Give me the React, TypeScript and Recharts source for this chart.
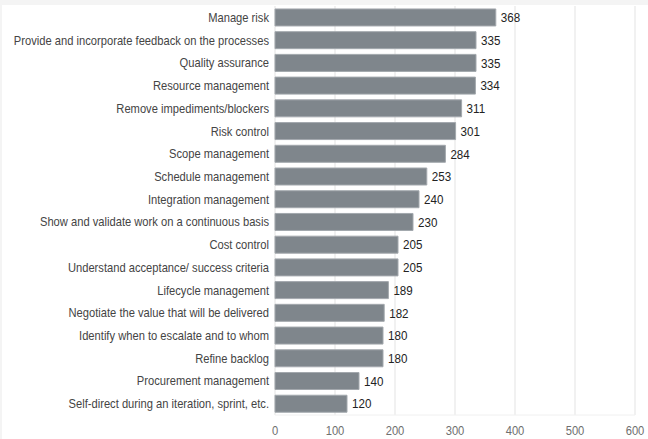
import React from "react";
import { BarChart, Bar, XAxis, YAxis, CartesianGrid, LabelList } from "recharts";

const categories = [
  "Manage risk",
  "Provide and incorporate feedback on the processes",
  "Quality assurance",
  "Resource management",
  "Remove impediments/blockers",
  "Risk control",
  "Scope management",
  "Schedule management",
  "Integration management",
  "Show and validate work on a continuous basis",
  "Cost control",
  "Understand acceptance/ success criteria",
  "Lifecycle management",
  "Negotiate the value that will be delivered",
  "Identify when to escalate and to whom",
  "Refine backlog",
  "Procurement management",
  "Self-direct during an iteration, sprint, etc.",
];
const values = [368, 335, 335, 334, 311, 301, 284, 253, 240, 230, 205, 205, 189, 182, 180, 180, 140, 120];
const xTicks = [0, 100, 200, 300, 400, 500, 600];

const data = categories.map((name, i) => ({ name, value: values[i] }));

const SX = 0.86;

const CategoryTick = (props: any) => {
  const { x, y, payload } = props;
  return (
    <text
      transform={`translate(${x},${y}) scale(${SX},1)`}
      x={0}
      y={0}
      dy="0.35em"
      textAnchor="end"
      fill="#444"
      fontSize={13}
    >
      {payload.value}
    </text>
  );
};

const ValueTick = (props: any) => {
  const { x, y, payload } = props;
  return (
    <text
      transform={`translate(${x},${y}) scale(${SX},1)`}
      x={0}
      y={0}
      dy="0.71em"
      textAnchor="middle"
      fill="#6f6f6f"
      fontSize={13}
    >
      {payload.value}
    </text>
  );
};

const ValueLabel = (props: any) => {
  const { x, y, width, height, value } = props;
  const tx = Number(x) + Number(width) + 5;
  const ty = Number(y) + Number(height) / 2;
  return (
    <text
      transform={`translate(${tx},${ty}) scale(${SX},1)`}
      x={0}
      y={0}
      dy="0.35em"
      textAnchor="start"
      fill="#222"
      fontSize={13.5}
    >
      {value}
    </text>
  );
};

export default function App() {
  return (
    <div
      style={{
        position: "fixed",
        left: 0,
        top: 0,
        width: 648,
        height: 439,
        background: "#f4f4f4",
        fontFamily: "'Liberation Sans', Arial, sans-serif",
      }}
    >
      <div style={{ position: "absolute", left: 2, top: 5, width: 646, height: 434, background: "#ffffff" }}>
        <BarChart
          width={646}
          height={434}
          data={data}
          layout="vertical"
          margin={{ top: 1, right: 13, bottom: 0, left: 0 }}
          barCategoryGap="13%"
        >
          <CartesianGrid horizontal={false} stroke="#ececec" strokeWidth={1.5} />
          <XAxis
            type="number"
            domain={[0, 600]}
            ticks={xTicks}
            height={24}
            tickLine={false}
            axisLine={{ stroke: "#f0f0f0" }}
            tickSize={0}
            tickMargin={11}
            tick={<ValueTick />}
          />
          <YAxis
            type="category"
            dataKey="name"
            width={273}
            tickLine={false}
            axisLine={false}
            tickSize={0}
            tickMargin={6}
            interval={0}
            tick={<CategoryTick />}
          />
          <Bar dataKey="value" fill="#7f868c" stroke="#a3a8ad" strokeWidth={1} isAnimationActive={false}>
            <LabelList dataKey="value" content={<ValueLabel />} />
          </Bar>
        </BarChart>
      </div>
    </div>
  );
}
